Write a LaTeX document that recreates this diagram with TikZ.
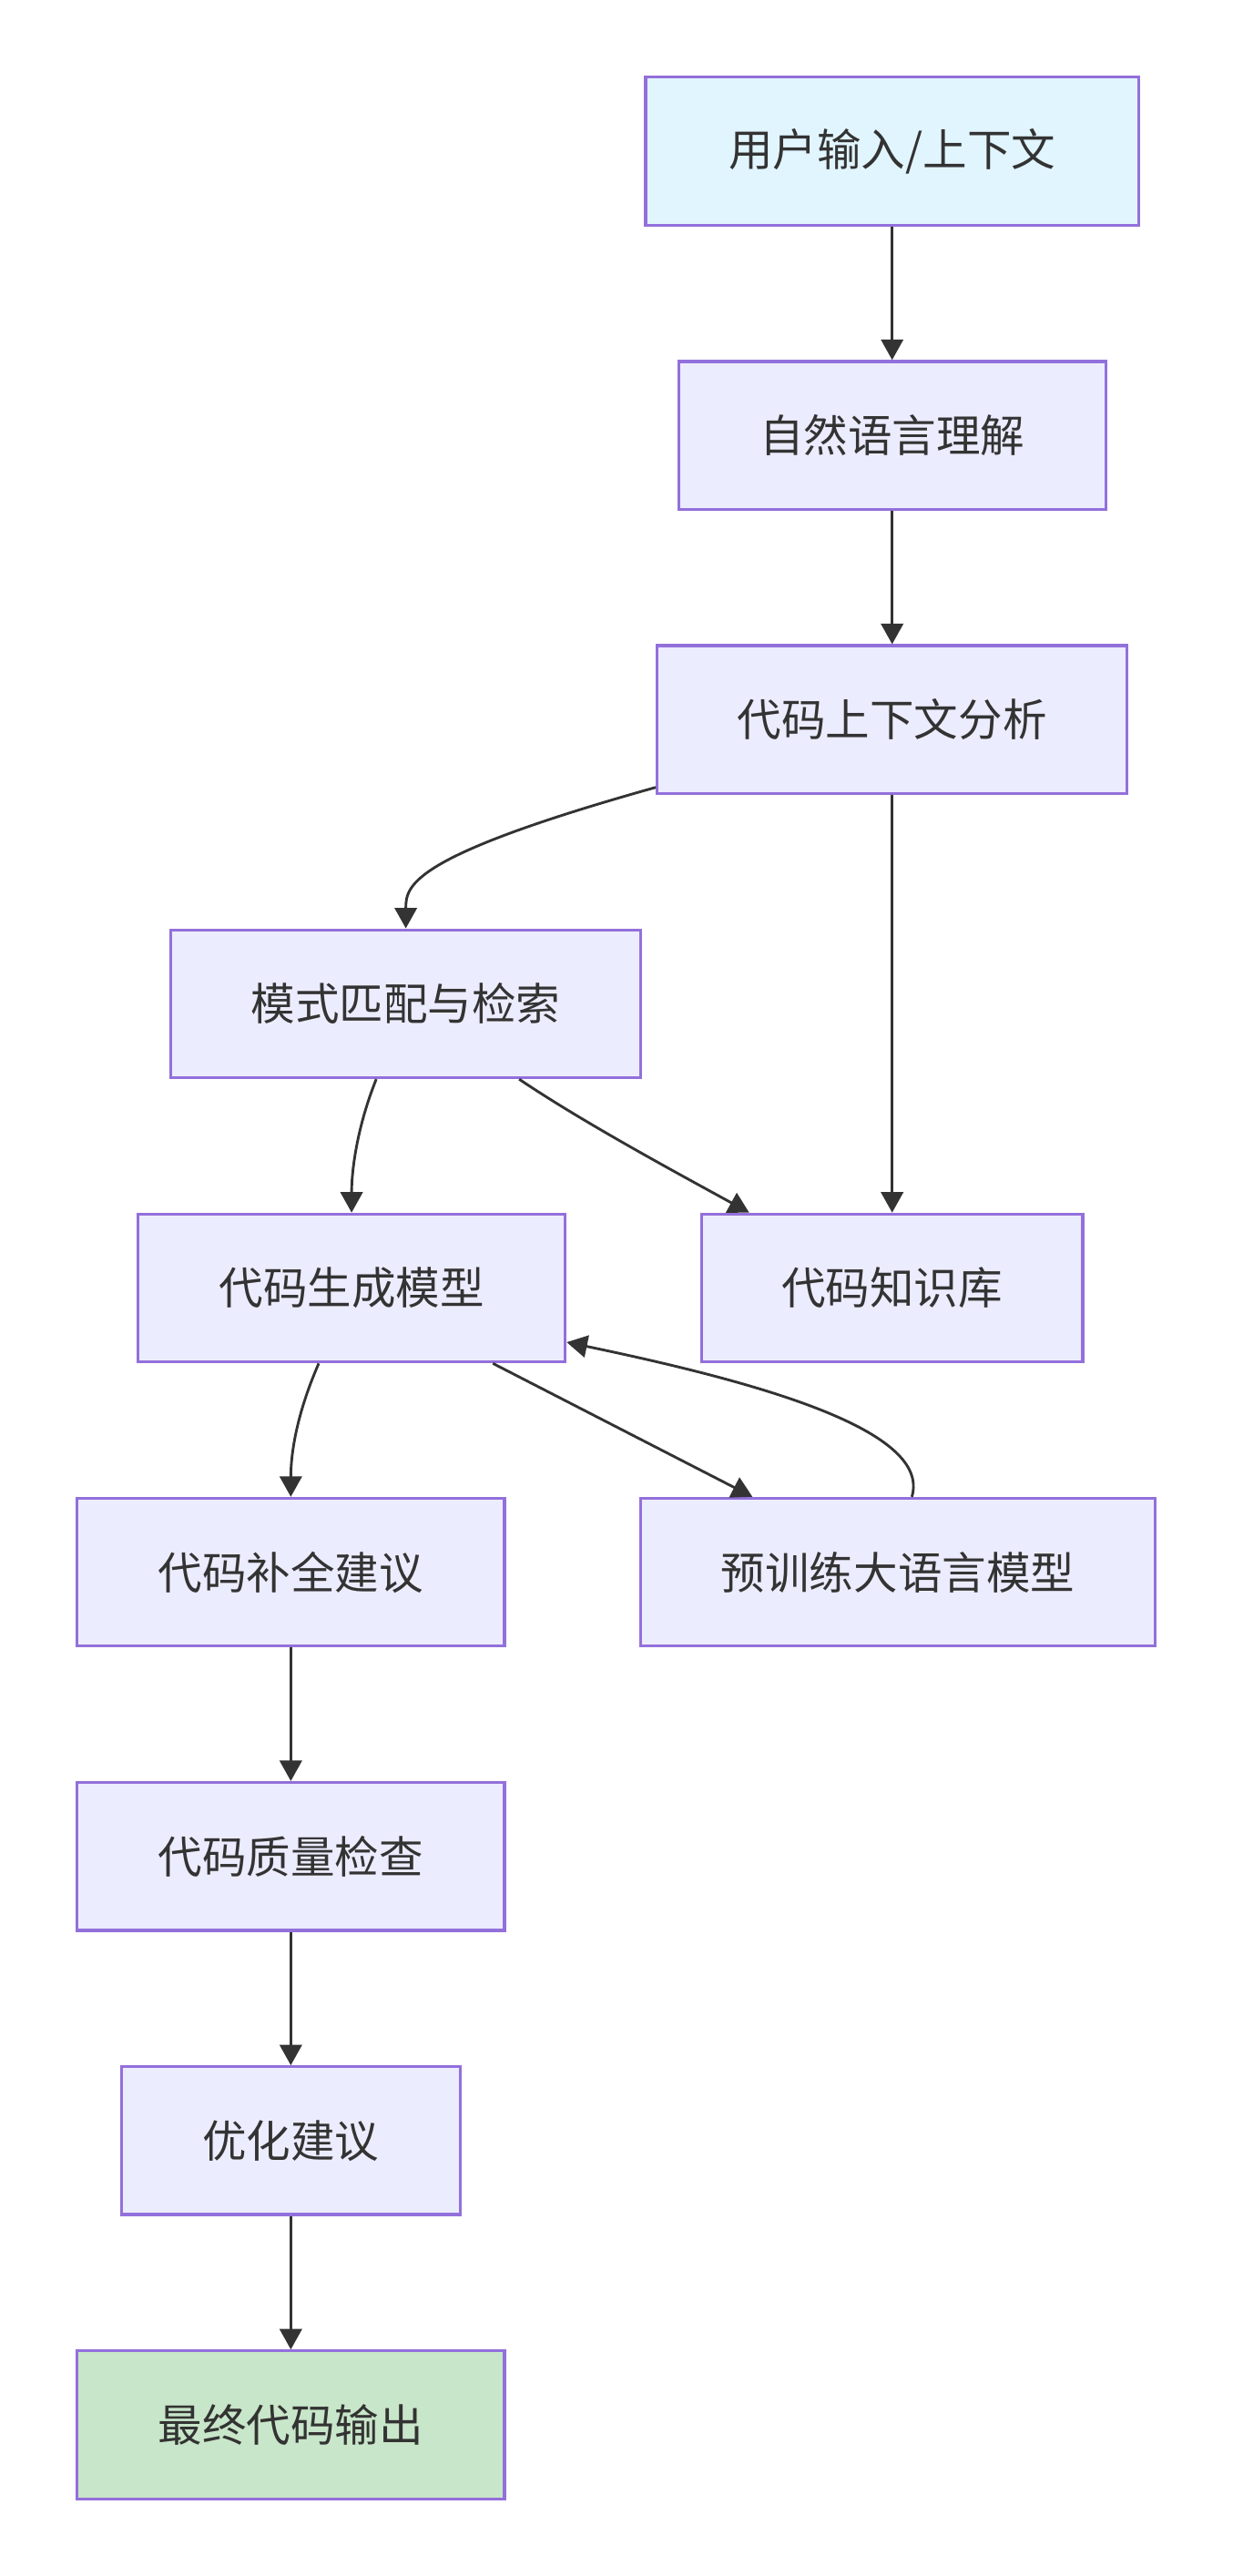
\documentclass[tikz,border=0pt]{standalone}
\usepackage{fontspec}
\setmainfont{Noto Sans CJK SC}
\usetikzlibrary{arrows.meta}
\definecolor{boxfill}{HTML}{ECECFF}
\definecolor{boxline}{HTML}{9370DB}
\definecolor{inputfill}{HTML}{E1F5FE}
\definecolor{outputfill}{HTML}{C8E6C9}
\definecolor{inkgray}{HTML}{333333}
\begin{document}
\begin{tikzpicture}[x=1pt,y=-1pt]
\tikzstyle{box}=[draw=boxline, fill=boxfill, line width=1.8pt, minimum height=90pt, inner sep=0pt, text=inkgray, font=\fontsize{26.9pt}{32pt}\selectfont]
\tikzstyle{flow}=[draw=inkgray, line width=1.6pt, -{Triangle[length=12.5pt,width=13.5pt]}]

\useasboundingbox (0,0) rectangle (750,1568);

\node[box, fill=inputfill, minimum width=300pt] (input) at (543,92) {用户输入/上下文};
\node[box, minimum width=260pt] (nlu) at (543,265) {自然语言理解};
\node[box, minimum width=286pt] (ctx) at (543,438) {代码上下文分析};
\node[box, minimum width=286pt] (match) at (247,611) {模式匹配与检索};
\node[box, minimum width=260pt] (gen) at (214,784) {代码生成模型};
\node[box, minimum width=232pt] (kb) at (543,784) {代码知识库};
\node[box, minimum width=260pt] (compl) at (177,957) {代码补全建议};
\node[box, minimum width=313pt] (llm) at (546.5,957) {预训练大语言模型};
\node[box, minimum width=260pt] (check) at (177,1130) {代码质量检查};
\node[box, minimum width=206pt] (opt) at (177,1303) {优化建议};
\node[box, fill=outputfill, minimum width=260pt] (out) at (177,1476) {最终代码输出};

\draw[flow] (input) -- (nlu);
\draw[flow] (nlu) -- (ctx);
\draw[flow] (ctx.196) .. controls +(-150,42) and +(0,-26) .. (match.north);
\draw[flow] (ctx) -- (kb);
\draw[flow] ([xshift=-18pt]match.south) .. controls +(-12,30) and +(0,-25) .. (gen.north);
\draw[flow] ([xshift=69pt]match.south) .. controls +(40,27) and +(-40,-22) .. ([xshift=-87pt]kb.north);
\draw[flow] ([xshift=-20pt]gen.south) .. controls +(-14,32) and +(0,-25) .. (compl.north);
\draw[flow] ([xshift=86pt]gen.south) -- ([xshift=-88.5pt]llm.north);
\draw[flow] ([xshift=8.5pt]llm.north) .. controls +(12,-40) and +(120,25) .. ([yshift=-33pt]gen.east);
\draw[flow] (compl) -- (check);
\draw[flow] (check) -- (opt);
\draw[flow] (opt) -- (out);

\end{tikzpicture}
\end{document}
